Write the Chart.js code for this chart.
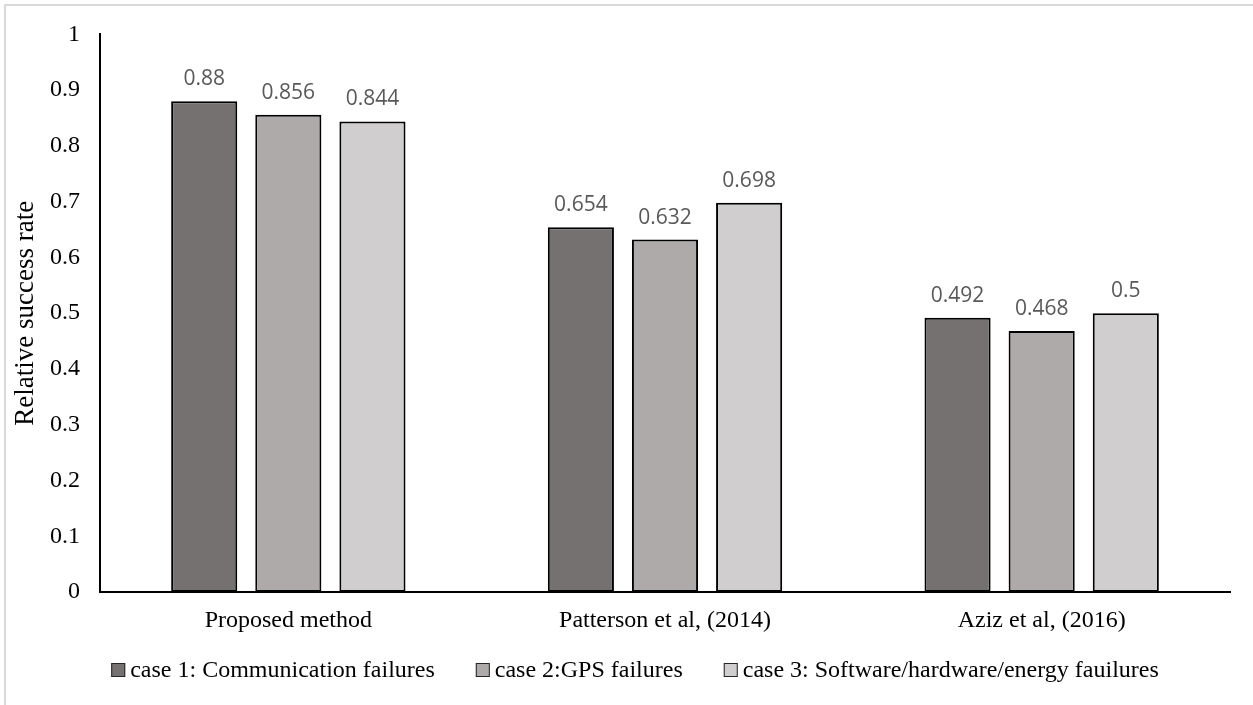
<!DOCTYPE html>
<html>
<head>
<meta charset="utf-8">
<title>Relative success rate</title>
<script src="https://cdn.jsdelivr.net/npm/chart.js@4/dist/chart.umd.min.js"></script>
<style>
  body { margin: 0; background: #fff; }
  canvas { display: block; }
</style>
</head>
<body>
<canvas id="myChart" width="1253" height="705"></canvas>
<script>
// methods on the x axis
const methods = ['Proposed method', 'Patterson et al, (2014)', 'Aziz et al, (2016)'];

// one array per failure case
const case1 = [0.88, 0.654, 0.492];
const case2 = [0.856, 0.632, 0.468];
const case3 = [0.844, 0.698, 0.5];

const seriesNames = [
    'case 1: Communication failures',
    'case 2:GPS failures',
    'case 3: Software/hardware/energy fauilures'
];
const yTicks = [0, 0.1, 0.2, 0.3, 0.4, 0.5, 0.6, 0.7, 0.8, 0.9, 1];

const colors = ['#767171', '#aeaaaa', '#d0cece'];
const serif = '"Liberation Serif", "Times New Roman", serif';

// light frame on the top and left edge
const framePlugin = {
    id: 'frame',
    beforeDraw(chart) {
        const ctx = chart.ctx;
        ctx.save();
        ctx.fillStyle = '#fff';
        ctx.fillRect(0, 0, chart.width, chart.height);
        ctx.strokeStyle = '#d9d9d9';
        ctx.lineWidth = 2;
        ctx.beginPath();
        ctx.moveTo(5, chart.height);
        ctx.lineTo(5, 5);
        ctx.lineTo(chart.width, 5);
        ctx.stroke();
        ctx.restore();
    }
};

// value written above each bar
const valueLabels = {
    id: 'valueLabels',
    afterDatasetsDraw(chart) {
        const ctx = chart.ctx;
        ctx.save();
        ctx.font = '21px "Open Sans", sans-serif';
        ctx.fillStyle = '#595959';
        ctx.textAlign = 'center';
        ctx.textBaseline = 'alphabetic';
        chart.data.datasets.forEach((ds, i) => {
            chart.getDatasetMeta(i).data.forEach((bar, j) => {
                ctx.fillText(String(ds.data[j]), bar.x, bar.y - 16);
            });
        });
        ctx.restore();
    }
};

// legend row under the axis, squares with a thin outline
const bottomLegend = {
    id: 'bottomLegend',
    afterDraw(chart) {
        const ctx = chart.ctx;
        const box = 14, gapText = 5, gapItem = 41, baseline = 677, centerX = 635;
        ctx.save();
        ctx.font = '24px ' + serif;
        ctx.textBaseline = 'alphabetic';
        ctx.textAlign = 'left';
        const widths = chart.data.datasets.map(ds => ctx.measureText(ds.label).width);
        let total = gapItem * (widths.length - 1);
        widths.forEach(w => total += box + gapText + w);
        let x = centerX - total / 2;
        chart.data.datasets.forEach((ds, i) => {
            ctx.fillStyle = ds.backgroundColor;
            ctx.fillRect(x, baseline - box, box, box);
            ctx.strokeStyle = '#262626';
            ctx.lineWidth = 1;
            ctx.strokeRect(x + 0.5, baseline - box + 0.5, box - 1, box - 1);
            ctx.fillStyle = '#000';
            ctx.fillText(ds.label, x + box + gapText, baseline);
            x += box + gapText + widths[i] + gapItem;
        });
        ctx.restore();
    }
};

const ctx = document.getElementById('myChart').getContext('2d');
const chart = new Chart(ctx, {
    type: 'bar',
    data: {
        labels: methods,
        datasets: [case1, case2, case3].map((values, i) => ({
            label: seriesNames[i],
            data: values,
            backgroundColor: colors[i],
            borderColor: '#000',
            borderWidth: 2,
            borderSkipped: false,
            categoryPercentage: 0.67,
            barPercentage: 0.786
        }))
    },
    options: {
        responsive: false,
        animation: false,
        devicePixelRatio: 1,
        layout: { padding: { top: 29, right: 23, left: 0, bottom: 0 } },
        plugins: {
            legend: { display: false },
            tooltip: { enabled: false }
        },
        scales: {
            x: {
                grid: { display: false, drawTicks: false },
                border: { display: true, color: '#000', width: 2 },
                ticks: { font: { family: serif, size: 24 }, color: '#000', padding: 14 },
                afterFit(scale) { scale.height = 113; }
            },
            y: {
                min: 0,
                max: 1,
                grid: { display: false, drawTicks: false },
                border: { display: true, color: '#000', width: 2 },
                afterBuildTicks(scale) {
                    scale.ticks = yTicks.map(v => ({ value: v }));
                },
                ticks: {
                    font: { family: serif, size: 24 },
                    color: '#000',
                    padding: 20,
                    callback: v => String(v)
                },
                title: {
                    display: true,
                    text: 'Relative success rate',
                    font: { family: serif, size: 27 },
                    color: '#000',
                    padding: { top: 10, bottom: 0 }
                },
                afterFit(scale) { scale.width = 100; }
            }
        }
    },
    plugins: [framePlugin, valueLabels, bottomLegend]
});
</script>
</body>
</html>
